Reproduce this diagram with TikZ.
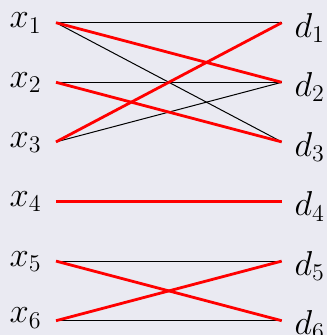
\documentclass[tikz,border=0pt]{standalone}
\usepackage{xcolor}
\usepackage{amsmath}
\usetikzlibrary{arrows, positioning}

\definecolor{bgcol}{HTML}{EAEAF2}

\begin{document}
\begin{tikzpicture}[node distance=29.8pt, font=\LARGE]
    \fill [bgcol] (0,0) rectangle (163.5pt,-167.5pt);
    \useasboundingbox (0,0) rectangle (163.5pt,-167.5pt);

    % left and right ends of the lines
    \coordinate (a1) at (28pt,-11.35pt);
    \coordinate [below of=a1] (a2);
    \coordinate [below of=a2] (a3);
    \coordinate [below of=a3] (a4);
    \coordinate [below of=a4] (a5);
    \coordinate [below of=a5] (a6);
    \coordinate (b1) at (140.85pt,-11.35pt);
    \coordinate [below of=b1] (b2);
    \coordinate [below of=b2] (b3);
    \coordinate [below of=b3] (b4);
    \coordinate [below of=b4] (b5);
    \coordinate [below of=b5] (b6);

    \node (x1) [anchor=north east, inner sep=0] at ([xshift=-7pt, yshift=5pt]a1) {$x_1$};
    \node (x2) [anchor=north east, inner sep=0] at ([xshift=-7pt, yshift=5pt]a2) {$x_2$};
    \node (x3) [anchor=north east, inner sep=0] at ([xshift=-7pt, yshift=5pt]a3) {$x_3$};
    \node (x4) [anchor=north east, inner sep=0] at ([xshift=-7pt, yshift=5pt]a4) {$x_4$};
    \node (x5) [anchor=north east, inner sep=0] at ([xshift=-7pt, yshift=5pt]a5) {$x_5$};
    \node (x6) [anchor=north east, inner sep=0] at ([xshift=-7pt, yshift=6.5pt]a6) {$x_6$};
    \node (d1) [anchor=north west, inner sep=0] at ([xshift=6.2pt, yshift=5pt]b1) {$d_1$};
    \node (d2) [anchor=north west, inner sep=0] at ([xshift=6.2pt, yshift=5pt]b2) {$d_2$};
    \node (d3) [anchor=north west, inner sep=0] at ([xshift=6.2pt, yshift=5pt]b3) {$d_3$};
    \node (d4) [anchor=north west, inner sep=0] at ([xshift=6.2pt, yshift=5pt]b4) {$d_4$};
    \node (d5) [anchor=north west, inner sep=0] at ([xshift=6.2pt, yshift=5pt]b5) {$d_5$};
    \node (d6) [anchor=north west, inner sep=0] at ([xshift=6.2pt, yshift=5.5pt]b6) {$d_6$};

    \draw [line width=0.5pt] (a1) -- (b1);
    \draw [line width=0.5pt] (a1) -- (b3);
    \draw [line width=0.5pt] (a2) -- (b2);
    \draw [line width=0.5pt] (a3) -- (b2);
    \draw [line width=0.5pt] (a5) -- (b5);
    \draw [line width=0.6pt] (a6) -- (b6);

    \draw [red, line width=1.4pt] (a1) -- (b2);
    \draw [red, line width=1.4pt] (a2) -- (b3);
    \draw [red, line width=1.4pt] (a3) -- (b1);
    \draw [red, line width=1.4pt] (a4) -- (b4);
    \draw [red, line width=1.4pt] (a5) -- (b6);
    \draw [red, line width=1.4pt] (a6) -- (b5);
\end{tikzpicture}
\end{document}
